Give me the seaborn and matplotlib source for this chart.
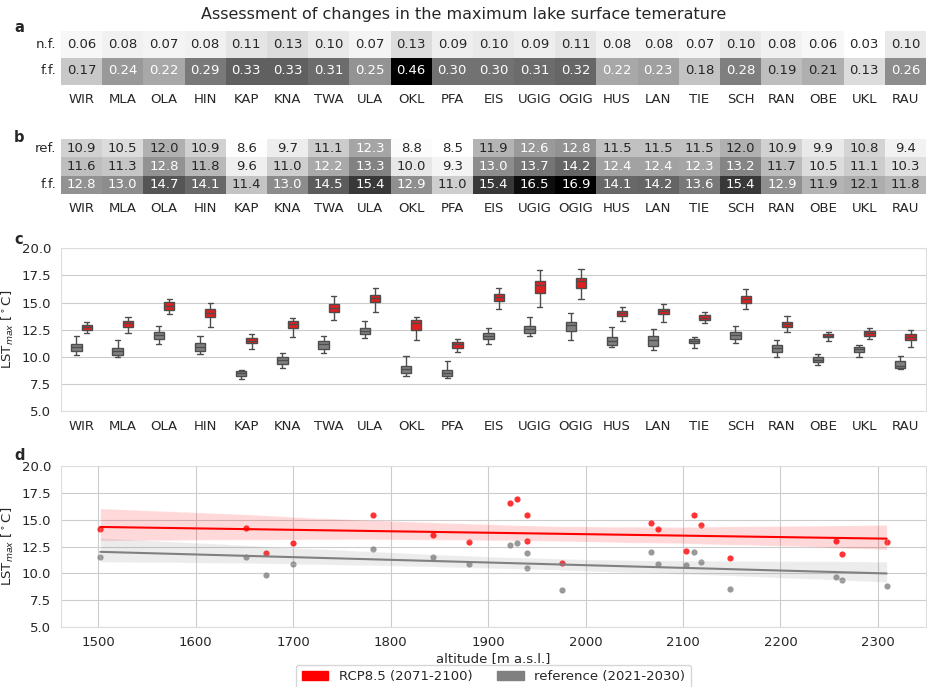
import numpy as np
import pandas as pd
import matplotlib
matplotlib.use("Agg")
import matplotlib.pyplot as plt
import seaborn as sns
from matplotlib.patches import Patch

# ========================
# Data
# ========================
lakes = ["WIR", "MLA", "OLA", "HIN", "KAP", "KNA", "TWA", "ULA", "OKL", "PFA", "EIS",
         "UGIG", "OGIG", "HUS", "LAN", "TIE", "SCH", "RAN", "OBE", "UKL", "RAU"]

# panel a: share of days (near future / far future)
nf_share = [0.06, 0.08, 0.07, 0.08, 0.11, 0.13, 0.10, 0.07, 0.13, 0.09, 0.10,
            0.09, 0.11, 0.08, 0.08, 0.07, 0.10, 0.08, 0.06, 0.03, 0.10]
ff_share = [0.17, 0.24, 0.22, 0.29, 0.33, 0.33, 0.31, 0.25, 0.46, 0.30, 0.30,
            0.31, 0.32, 0.22, 0.23, 0.18, 0.28, 0.19, 0.21, 0.13, 0.26]

# panel b: mean LSTmax
ref_mean = [10.9, 10.5, 12.0, 10.9, 8.6, 9.7, 11.1, 12.3, 8.8, 8.5, 11.9,
            12.6, 12.8, 11.5, 11.5, 11.5, 12.0, 10.9, 9.9, 10.8, 9.4]
nf_mean = [11.6, 11.3, 12.8, 11.8, 9.6, 11.0, 12.2, 13.3, 10.0, 9.3, 13.0,
           13.7, 14.2, 12.4, 12.4, 12.3, 13.2, 11.7, 10.5, 11.1, 10.3]
ff_mean = [12.8, 13.0, 14.7, 14.1, 11.4, 13.0, 14.5, 15.4, 12.9, 11.0, 15.4,
           16.5, 16.9, 14.1, 14.2, 13.6, 15.4, 12.9, 11.9, 12.1, 11.8]

# panel c: box values per lake [low whisker, q1, median, q3, high whisker]
ref_box = [
    [10.13, 10.56, 10.90, 11.20, 11.91], [9.94, 10.13, 10.50, 10.77, 11.54],
    [11.17, 11.66, 11.97, 12.28, 12.80], [10.25, 10.56, 10.93, 11.29, 11.94],
    [7.99, 8.26, 8.48, 8.66, 8.76], [9.00, 9.37, 9.71, 10.02, 10.35],
    [10.35, 10.75, 11.15, 11.43, 11.95], [11.70, 12.07, 12.38, 12.66, 13.33],
    [8.23, 8.54, 8.91, 9.19, 10.11], [8.08, 8.23, 8.54, 8.82, 9.59],
    [11.16, 11.65, 11.96, 12.20, 12.63], [11.93, 12.23, 12.57, 12.85, 13.68],
    [11.50, 12.36, 12.97, 13.22, 14.02], [10.88, 11.10, 11.47, 11.80, 12.70],
    [10.60, 11.03, 11.55, 11.92, 12.60], [10.78, 11.27, 11.46, 11.67, 11.80],
    [11.24, 11.64, 12.01, 12.29, 12.87], [9.95, 10.48, 10.81, 11.12, 11.58],
    [9.22, 9.52, 9.74, 9.95, 10.29], [9.98, 10.41, 10.72, 10.94, 11.12],
    [8.88, 9.00, 9.19, 9.62, 10.11],
]
ff_box = [
    [12.15, 12.46, 12.70, 12.92, 13.23], [12.15, 12.71, 13.08, 13.32, 13.66],
    [13.94, 14.30, 14.67, 15.01, 15.35], [12.71, 13.66, 14.06, 14.40, 14.98],
    [10.72, 11.24, 11.49, 11.70, 12.07], [11.86, 12.63, 13.03, 13.33, 13.60],
    [13.40, 14.10, 14.53, 14.87, 15.58], [14.16, 15.02, 15.45, 15.73, 16.31],
    [11.58, 12.47, 13.09, 13.36, 13.70], [10.41, 10.84, 11.18, 11.37, 11.64],
    [14.42, 15.15, 15.49, 15.80, 16.32], [14.60, 15.86, 16.63, 17.00, 18.04],
    [15.34, 16.32, 17.00, 17.30, 18.10], [13.28, 13.80, 14.05, 14.26, 14.63],
    [13.24, 13.92, 14.19, 14.44, 14.90], [13.15, 13.36, 13.61, 13.86, 14.13],
    [14.41, 14.96, 15.33, 15.64, 16.22], [12.29, 12.72, 13.00, 13.18, 13.73],
    [11.49, 11.80, 11.95, 12.14, 12.29], [11.61, 11.95, 12.17, 12.35, 12.66],
    [10.88, 11.52, 11.80, 12.07, 12.50],
]

# panel d: altitude of each lake [m a.s.l.]
altitude = [1700, 1940, 2067, 2074, 2148, 2257, 2118, 1782, 2309, 1976, 1940,
            1922, 1930, 1502, 1652, 1843, 2111, 1880, 1672, 2103, 2263]

# ========================
# Figure
# ========================
sns.set_style("whitegrid")
plt.rcParams["font.family"] = ["DejaVu Sans"]
TICK = 9.5

W, H = 927, 687
fig = plt.figure(figsize=(W / 100, H / 100), dpi=100)

def px_axes(top, bottom, left=61, right=926):
    return fig.add_axes([left / W, 1 - bottom / H, (right - left) / W, (bottom - top) / H])

ax_a = px_axes(30.5, 84.5)
ax_b = px_axes(139, 194)
ax_c = px_axes(248.3, 411)
ax_d = px_axes(465.7, 627.3)

# A. share heatmap
share_df = pd.DataFrame([nf_share, ff_share], index=["n.f.", "f.f."], columns=lakes)
sns.heatmap(share_df, cmap="Greys", annot=True, fmt=".2f", cbar=False, ax=ax_a,
            annot_kws={"size": TICK})

# B. mean heatmap
mean_df = pd.DataFrame([ref_mean, nf_mean, ff_mean], index=["ref.", "n.f.", "f.f."], columns=lakes)
sns.heatmap(mean_df, cmap="Greys", annot=True, fmt=".1f", cbar=False, ax=ax_b,
            annot_kws={"size": TICK})

for ax in (ax_a, ax_b):
    ax.tick_params(axis="both", labelsize=TICK, length=0)
    ax.tick_params(axis="x", pad=6)
    ax.set_yticklabels(ax.get_yticklabels(), rotation=0)
    ax.set_xticklabels(ax.get_xticklabels(), rotation=0)
    ax.set_xlabel("")
    ax.set_ylabel("")

# C. boxplots
rows = []
for lake, rb, fb in zip(lakes, ref_box, ff_box):
    for v in rb:
        rows.append((lake, "reference", v))
    for v in fb:
        rows.append((lake, "RCP8.5", v))
box_df = pd.DataFrame(rows, columns=["lake", "period", "value"])

sns.boxplot(data=box_df, x="lake", y="value", hue="period", hue_order=["reference", "RCP8.5"],
            palette={"reference": "grey", "RCP8.5": "red"}, width=0.5, whis=(0, 100),
            linewidth=1, legend=False, ax=ax_c)
ax_c.set_ylim(5, 20)
ax_c.set_yticks(np.arange(5, 20.1, 2.5))
ax_c.set_xlabel("")
ax_c.set_ylabel(r"LST$_{max}$ [$^\circ$C]", fontsize=TICK)
ax_c.tick_params(labelsize=TICK)
ax_c.tick_params(axis="x", pad=3)

# D. altitude regression
sns.regplot(x=altitude, y=ff_mean, color="red", ax=ax_d, seed=1,
            scatter_kws={"s": 20, "linewidths": 0}, line_kws={"lw": 1.5})
sns.regplot(x=altitude, y=ref_mean, color="grey", ax=ax_d, seed=1,
            scatter_kws={"s": 20, "linewidths": 0}, line_kws={"lw": 1.5})
ax_d.set_ylim(5, 20)
ax_d.set_yticks(np.arange(5, 20.1, 2.5))
ax_d.set_xlabel("altitude [m a.s.l.]", fontsize=TICK, labelpad=2)
ax_d.set_ylabel(r"LST$_{max}$ [$^\circ$C]", fontsize=TICK)
ax_d.tick_params(labelsize=TICK)
ax_d.tick_params(axis="x", pad=3)

handles = [Patch(color="red"), Patch(color="grey")]
ax_d.legend(handles, ["RCP8.5 (2071-2100)", "reference (2021-2030)"], ncol=2,
            loc="upper center", bbox_to_anchor=(0.5, -0.19), fontsize=TICK,
            handlelength=2.0, columnspacing=1.9)

for ax in (ax_c, ax_d):
    for s in ax.spines.values():
        s.set_color("#dddddd")

# panel letters and title
for letter, y in [("a", 28), ("b", 137), ("c", 240), ("d", 455)]:
    fig.text(14 / W, 1 - y / H, letter, fontsize=10.5, weight="bold", va="center")
fig.text(0.5, 1 - 14 / H, "Assessment of changes in the maximum lake surface temerature",
         ha="center", va="center", fontsize=11.5)

fig.savefig("out.png", dpi=100)
